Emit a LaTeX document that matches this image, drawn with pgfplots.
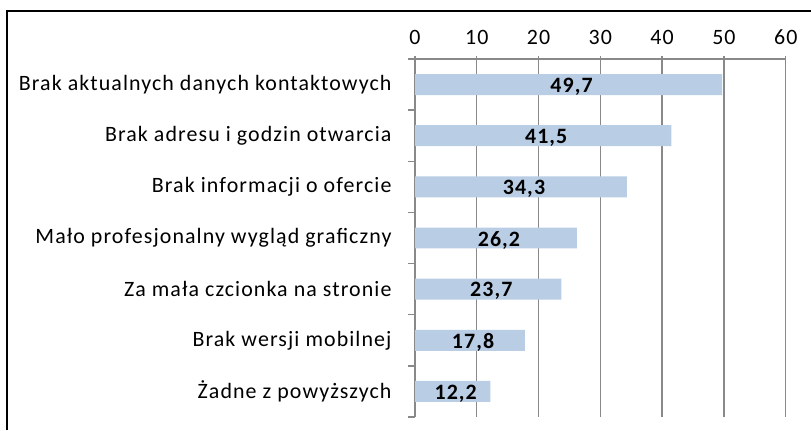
\documentclass[border=0pt]{standalone}
\usepackage{pgfplots}
\usepackage{pgfplotstable}
\pgfplotsset{compat=1.18}
\usepackage{fontspec}
\setmainfont{Carlito}[LetterSpace=5]
\definecolor{barblue}{HTML}{B9CDE5}
\definecolor{gridgray}{HTML}{898989}
\pgfplotstableread{
idx val
6 49.7
5 41.5
4 34.3
3 26.2
2 23.7
1 17.8
0 12.2
}\data
\begin{document}
\begin{tikzpicture}[x=1bp,y=1bp]
\path[use as bounding box] (0,0) rectangle (811,430);
\draw[black, line width=1.2bp] (7,0) -- (7,419) -- (811,419);
\begin{axis}[
 at={(415bp,13bp)}, anchor=south west,
 scale only axis, width=370.7bp, height=358bp,
 xmin=0, xmax=60, ymin=-0.5, ymax=6.5,
 xtick={0,10,...,60},
 ytick={0,...,6},
 yticklabels={Żadne z powyższych, Brak wersji mobilnej, Za mała czcionka na stronie, Mało profesjonalny wygląd graficzny, Brak informacji o ofercie, Brak adresu i godzin otwarcia, Brak aktualnych danych kontaktowych},
 minor ytick={-0.5,0.5,...,6.5},
 axis x line=top, axis y line=left,
 axis line style={-, draw=gridgray, line width=1.3bp},
 xmajorgrids, major grid style={draw=gridgray, line width=1.3bp},
 xtick align=center, ytick align=outside,
 major tick length=7bp, minor tick length=7bp,
 major x tick style={draw=gridgray, line width=1.3bp},
 major y tick style={draw=none},
 minor y tick style={draw=gridgray, line width=1.3bp},
 tick label style={font=\fontsize{22}{25}\selectfont, text=black},
 /pgf/number format/assume math mode=true,
 xticklabel style={yshift=7bp},
 yticklabel style={xshift=-13bp},
]
\addplot[xbar, bar width=0.41, fill=barblue, draw=none,
  nodes near coords, point meta=x,
  visualization depends on={x \as \rawx},
  nodes near coords style={font=\fontsize{22}{25}\selectfont\bfseries, text=black, anchor=center,
     shift={(axis direction cs:-\rawx/2,0)}, xshift=3bp, yshift=-2bp,
     /pgf/number format/.cd, use comma, fixed, fixed zerofill, precision=1, assume math mode=true},
] table[x=val, y=idx] {\data};
\end{axis}
\end{tikzpicture}
\end{document}
